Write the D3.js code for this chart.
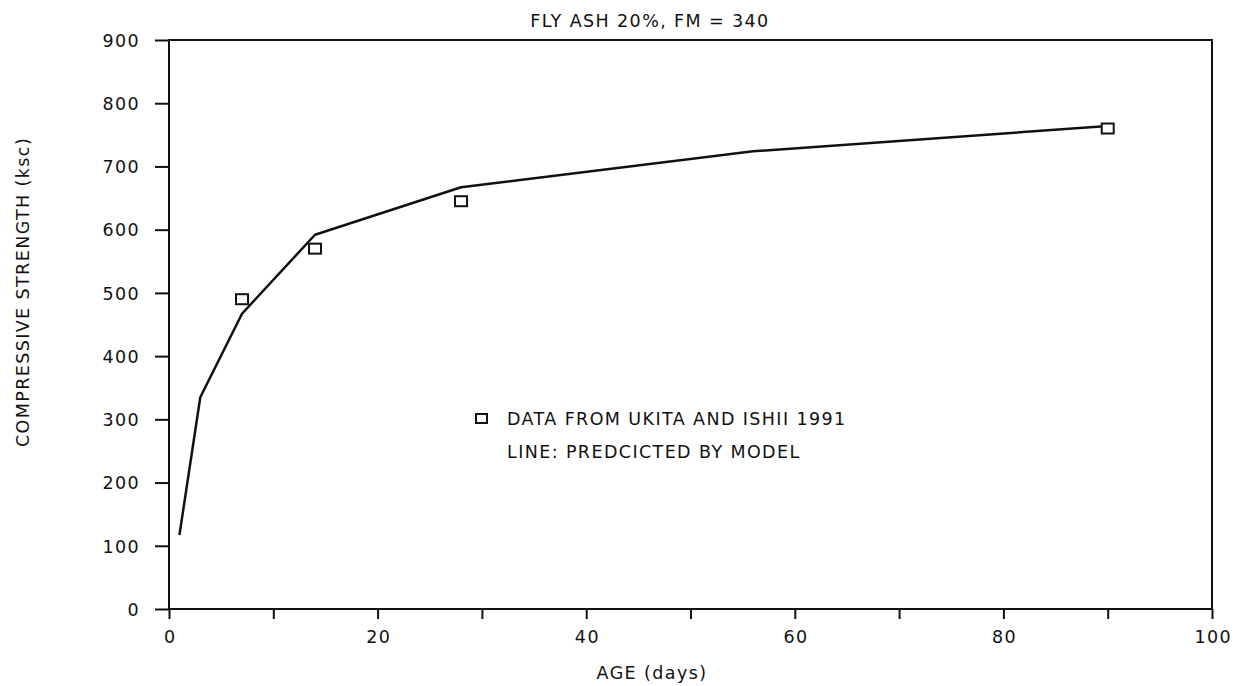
<!DOCTYPE html>
<html>
<head>
<meta charset="utf-8">
<script src="https://cdn.jsdelivr.net/npm/d3@7"></script>
<style>
  html, body { margin: 0; padding: 0; background: #fff; }
  text { font-family: "DejaVu Sans", sans-serif; font-size: 17.5px; letter-spacing: 1.4px; fill: #111; }
</style>
</head>
<body>
<svg id="viz" width="1233" height="686"></svg>
<script>
(function () {
  "use strict";

  // measured data (squares)
  const ageData = [7, 14, 28, 90];
  const strengthData = [490, 570, 645, 760];

  // model prediction (line)
  const ageModel = [1, 3, 7, 14, 28, 56, 90];
  const strengthModel = [117, 335, 467, 592, 667, 724, 764];

  const xTicks = [0, 20, 40, 60, 80, 100];
  const xMinor = [10, 30, 50, 70, 90];
  const yTicks = [0, 100, 200, 300, 400, 500, 600, 700, 800, 900];

  const titleText = "FLY ASH 20%, FM = 340";
  const xTitle = "AGE (days)";
  const yTitle = "COMPRESSIVE STRENGTH (ksc)";
  const legendLines = ["DATA FROM UKITA AND ISHII 1991", "LINE: PREDCICTED BY MODEL"];

  /*
  | Layout
  */
  let margin = { top: 40, left: 169, right: 21, bottom: 77 };
  let width = 1233 - margin.left - margin.right;
  let height = 686 - margin.top - margin.bottom;

  let x = d3.scaleLinear().domain([0, 100]).range([0, width]);
  let y = d3.scaleLinear().domain([0, 900]).range([height, 0]);

  let svg = d3.select("#viz");
  let g = svg.append("g").attr("transform", `translate(${margin.left},${margin.top})`);

  // frame
  g.append("rect")
    .attr("width", width).attr("height", height)
    .attr("fill", "none").attr("stroke", "#111").attr("stroke-width", 2);

  // x axis
  let xAxis = g.append("g")
    .attr("transform", `translate(0,${height})`)
    .call(d3.axisBottom(x).tickValues(xTicks.concat(xMinor)).tickSize(10)
      .tickFormat(d => xTicks.includes(d) ? d : ""));
  xAxis.select(".domain").remove();
  xAxis.selectAll("line").attr("stroke", "#111").attr("stroke-width", 2);
  xAxis.selectAll("text").attr("y", 34).attr("dy", 0).attr("dx", 0.7).attr("fill", "#111");

  // y axis
  let yAxis = g.append("g")
    .call(d3.axisLeft(y).tickValues(yTicks).tickSize(14).tickPadding(15));
  yAxis.select(".domain").remove();
  yAxis.selectAll("line").attr("stroke", "#111").attr("stroke-width", 2);
  yAxis.selectAll("text").attr("dy", "0.36em").attr("fill", "#111");

  // model line
  let line = d3.line().x(d => x(d[0])).y(d => y(d[1]));
  g.append("path")
    .datum(d3.zip(ageModel, strengthModel))
    .attr("d", line)
    .attr("fill", "none").attr("stroke", "#111").attr("stroke-width", 2.5)
    .attr("stroke-linejoin", "round");

  // data squares
  g.selectAll(".pt")
    .data(d3.zip(ageData, strengthData))
    .enter()
    .append("rect")
    .attr("class", "pt")
    .attr("x", d => x(d[0]) - 6)
    .attr("y", d => y(d[1]) - 5)
    .attr("width", 12).attr("height", 10)
    .attr("fill", "#fff").attr("stroke", "#111").attr("stroke-width", 2);

  // legend
  let legend = svg.append("g").attr("transform", "translate(476,0)");
  legend.append("rect")
    .attr("x", 0).attr("y", 414).attr("width", 11).attr("height", 9)
    .attr("fill", "#fff").attr("stroke", "#111").attr("stroke-width", 2);
  legend.selectAll(".lg")
    .data(legendLines)
    .enter()
    .append("text")
    .attr("class", "lg")
    .attr("x", 31)
    .attr("y", (d, i) => 425 + i * 33)
    .text(d => d);

  // titles
  svg.append("text").attr("x", 650).attr("y", 27).attr("text-anchor", "middle").text(titleText);
  svg.append("text").attr("x", 652).attr("y", 679).attr("text-anchor", "middle").text(xTitle);
  svg.append("text")
    .attr("transform", "translate(29,292) rotate(-90)")
    .attr("text-anchor", "middle")
    .text(yTitle);
})();
</script>
</body>
</html>
